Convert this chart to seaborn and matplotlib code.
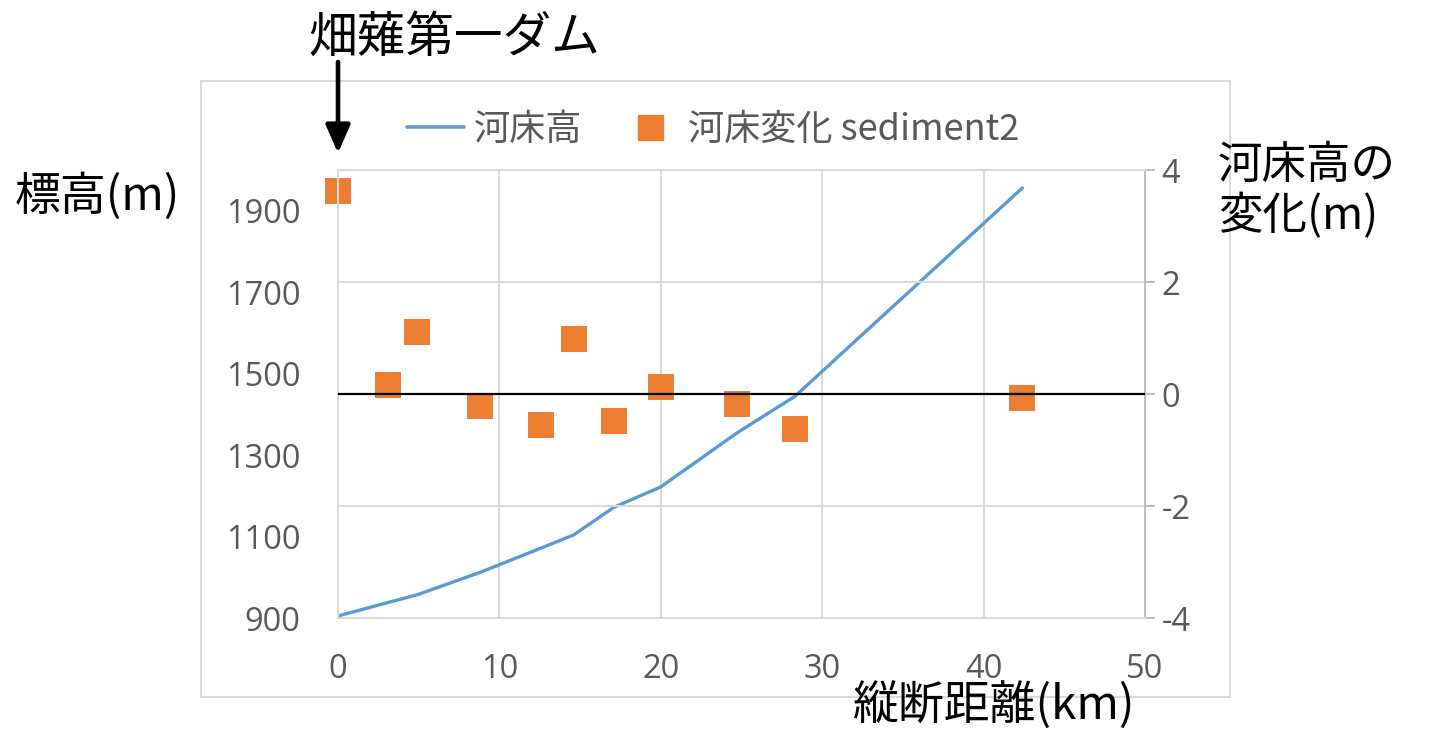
import matplotlib
matplotlib.use("Agg")
import matplotlib.pyplot as plt
from matplotlib.lines import Line2D
from matplotlib.patches import Rectangle, FancyArrowPatch
import pandas as pd
import seaborn as sns

# Longitudinal profile below Hatanashi No.1 dam
distance_km = [0, 3.1, 4.9, 8.8, 12.6, 14.6, 17.1, 20.0, 24.7, 28.3, 42.4]
bed_elevation_m = [905, 938, 957, 1012, 1072, 1104, 1172, 1222, 1354, 1444, 1956]
bed_change_m = [3.63, 0.16, 1.11, -0.21, -0.55, 0.98, -0.48, 0.13, -0.18, -0.63, -0.07]

left_ticks = [900, 1100, 1300, 1500, 1700, 1900]
right_ticks = [-4, -2, 0, 2, 4]
x_ticks = [0, 10, 20, 30, 40, 50]

line_label = "河床高"
scatter_label = "河床変化 sediment2"

df = pd.DataFrame({"dist": distance_km, "elev": bed_elevation_m, "change": bed_change_m})

sns.set_theme(style="white")
plt.rcParams["font.family"] = ["Noto Sans CJK JP", "DejaVu Sans"]
plt.rcParams["axes.unicode_minus"] = False

BLUE = "#5B9BD5"
ORANGE = "#ED7D31"
GRID = "#D9D9D9"
TXT = "#595959"

fig = plt.figure(figsize=(14.29, 7.30), dpi=100)
ax = fig.add_axes([0.2365, 0.1534, 0.5648, 0.6137])
ax2 = ax.twinx()

sns.lineplot(data=df, x="dist", y="elev", ax=ax, color=BLUE, linewidth=2.4,
             legend=False)
sns.scatterplot(data=df, x="dist", y="change", ax=ax2,
                marker="s", s=330, color=ORANGE, linewidth=0, legend=False)
for coll in ax2.collections:
    coll.set_clip_on(False)
ax2.axhline(0, color="black", linewidth=1.6, zorder=3)

ax.set_xlim(0, 50)
ax.set_ylim(900, 2000)
ax2.set_ylim(-4, 4)
ax.set_xticks(x_ticks)
ax.set_yticks(left_ticks)
ax2.set_yticks(right_ticks)

ax.set_xlabel("")
ax.set_ylabel("")
ax2.set_ylabel("")

ax.xaxis.grid(True, color=GRID, linewidth=1.4)
ax.yaxis.grid(False)
ax2.yaxis.grid(True, color=GRID, linewidth=1.4)
ax2.xaxis.grid(False)
ax2.set_axisbelow(True)

for a in (ax, ax2):
    for sp in a.spines.values():
        sp.set_color(GRID)
        sp.set_linewidth(1.4)
ax2.spines["right"].set_color("#BFBFBF")

ax.tick_params(axis="y", length=0, pad=27, labelsize=23.5, labelcolor=TXT)
ax.tick_params(axis="x", length=0, pad=25, labelsize=23.5, labelcolor=TXT)
ax2.tick_params(axis="y", length=7, width=1.4, color="#BFBFBF", pad=5,
                labelsize=23.5, labelcolor=TXT)
for lab in ax.get_xticklabels() + ax.get_yticklabels() + ax2.get_yticklabels():
    lab.set_fontfamily(["Open Sans", "DejaVu Sans"])

# Chart frame
fig.add_artist(Rectangle((201 / 1429, 1 - 697 / 730), (1230 - 201) / 1429,
                         (697 - 81) / 730, transform=fig.transFigure,
                         fill=False, edgecolor=GRID, linewidth=1.4))

handles = [Line2D([0], [0], color=BLUE, linewidth=2.6),
           Line2D([0], [0], color=ORANGE, marker="s", linestyle="",
                  markersize=18)]
leg = fig.legend(handles, [line_label, scatter_label], loc="center",
                 bbox_to_anchor=(0.499, 0.822), ncol=2, frameon=False,
                 fontsize=26, handlelength=1.6, handletextpad=0.25,
                 columnspacing=1.1)
for t in leg.get_texts():
    t.set_color(TXT)

# Annotations
fig.text(0.0105, 1 - 197 / 730, "標高(m)", fontsize=33, color="black",
         ha="left", va="center")
fig.text(454 / 1429, 1 - 38 / 730, "畑薙第一ダム", fontsize=35, color="black",
         ha="center", va="center")
fig.text(1218 / 1429, 1 - 142 / 730, "河床高の\n変化(m)", fontsize=32,
         color="black", ha="left", va="top", linespacing=1.15)
fig.text(993 / 1429, 1 - 707 / 730, "縦断距離(km)", fontsize=33, color="black",
         ha="center", va="center")
fig.add_artist(FancyArrowPatch(
    (338 / 1429, 1 - 62 / 730), (338 / 1429, 1 - 153 / 730),
    transform=fig.transFigure, arrowstyle="-|>,head_length=17,head_width=7.5",
    mutation_scale=1, linewidth=3.3, color="black",
    shrinkA=0, shrinkB=0))

fig.savefig("out.png", dpi=100)
